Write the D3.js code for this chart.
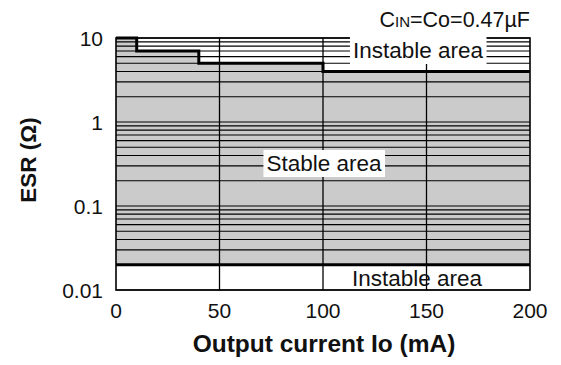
<!DOCTYPE html>
<html>
<head>
<meta charset="utf-8">
<script src="https://cdn.jsdelivr.net/npm/d3@7"></script>
<style>
  html, body { margin: 0; padding: 0; background: #fff; }
  svg { display: block; font-family: "Liberation Sans", Arial, Helvetica, sans-serif; }
</style>
</head>
<body>
<svg id="chart" width="561" height="365"></svg>
<script>
// Axis ticks
const xTicks = [0, 50, 100, 150, 200];
const yTicks = [0.01, 0.1, 1, 10];
const yTickLabels = ["0.01", "0.1", "1", "10"];

// Upper stability limit: ESR (Ω) vs output current (mA), step-after
const limitCurrent = [0, 10, 40, 100, 200];
const limitESR = [10, 7, 5, 4, 4];

// Lower stability limit (Ω)
const lowerESR = [0.02];

const svg = d3.select("#chart");
const margin = { left: 116, right: 31, top: 38, bottom: 75 };
const W = 561, H = 365;

const x = d3.scaleLinear().domain([0, 200]).range([margin.left, W - margin.right]);
const y = d3.scaleLog().domain([0.01, 10]).range([H - margin.bottom, margin.top]);

// stable region (grey)
const stablePts = limitCurrent.map((c, i) => [c, limitESR[i]]);
const area = d3.area()
  .curve(d3.curveStepAfter)
  .x(d => x(d[0]))
  .y0(y(lowerESR[0]))
  .y1(d => y(d[1]));
svg.append("path").datum(stablePts).attr("d", area).attr("fill", "#cbcbcb");

// horizontal log grid
const gridY = y.ticks();
svg.append("g").selectAll("line").data(gridY).join("line")
  .attr("x1", x(0)).attr("x2", x(200))
  .attr("y1", d => y(d)).attr("y2", d => y(d))
  .attr("stroke", "#000").attr("stroke-width", 1.1);

// vertical grid
svg.append("g").selectAll("line").data(xTicks.slice(1, -1)).join("line")
  .attr("x1", d => x(d)).attr("x2", d => x(d))
  .attr("y1", y(10)).attr("y2", y(0.01))
  .attr("stroke", "#000").attr("stroke-width", 1.3);

// limit lines
const line = d3.line().curve(d3.curveStepAfter).x(d => x(d[0])).y(d => y(d[1]));
svg.append("path").datum(stablePts).attr("d", line)
  .attr("fill", "none").attr("stroke", "#000").attr("stroke-width", 3);
svg.append("line")
  .attr("x1", x(0)).attr("x2", x(200))
  .attr("y1", y(lowerESR[0])).attr("y2", y(lowerESR[0]))
  .attr("stroke", "#000").attr("stroke-width", 3);

// frame
svg.append("rect")
  .attr("x", x(0)).attr("y", y(10))
  .attr("width", x(200) - x(0)).attr("height", y(0.01) - y(10))
  .attr("fill", "none").attr("stroke", "#000").attr("stroke-width", 1.6);

// region labels with white backing
function boxedLabel(text, cx, baseline, size) {
  const g = svg.append("g");
  const t = g.append("text")
    .attr("x", cx).attr("y", baseline)
    .attr("text-anchor", "middle")
    .attr("font-size", size)
    .attr("fill", "#111")
    .text(text);
  const b = t.node().getBBox();
  g.insert("rect", "text")
    .attr("x", b.x - 3).attr("y", b.y - 1)
    .attr("width", b.width + 6).attr("height", b.height + 2)
    .attr("fill", "#fff");
}
boxedLabel("Instable area", 418, 58, 22.5);
boxedLabel("Stable area", 324, 171, 22.5);
svg.append("text")
  .attr("x", 417).attr("y", 286)
  .attr("text-anchor", "middle").attr("font-size", 22.5).attr("fill", "#111")
  .text("Instable area");

// capacitor condition
const cond = svg.append("text")
  .attr("x", x(200)).attr("y", 27)
  .attr("text-anchor", "end").attr("font-size", 21.5).attr("fill", "#111");
cond.append("tspan").text("C");
cond.append("tspan").attr("font-size", 15).text("IN");
cond.append("tspan").text("=Co=0.47\u00b5F");

// tick labels
svg.append("g").selectAll("text").data(yTicks).join("text")
  .attr("x", 103).attr("y", d => y(d)).attr("dy", "0.36em")
  .attr("text-anchor", "end").attr("font-size", 21).attr("fill", "#111")
  .text((d, i) => yTickLabels[i]);
svg.append("g").selectAll("text").data(xTicks).join("text")
  .attr("x", d => x(d)).attr("y", 318)
  .attr("text-anchor", "middle").attr("font-size", 21).attr("fill", "#111")
  .text(d => d);

// axis titles
svg.append("text")
  .attr("x", (x(0) + x(200)) / 2 + 1).attr("y", 352)
  .attr("text-anchor", "middle").attr("font-size", 24.5).attr("font-weight", "bold").attr("fill", "#111")
  .text("Output current Io (mA)");
svg.append("text")
  .attr("transform", "translate(36,160) rotate(-90)")
  .attr("text-anchor", "middle").attr("font-size", 22.5).attr("font-weight", "bold").attr("fill", "#111")
  .text("ESR (\u03a9)");
</script>
</body>
</html>
